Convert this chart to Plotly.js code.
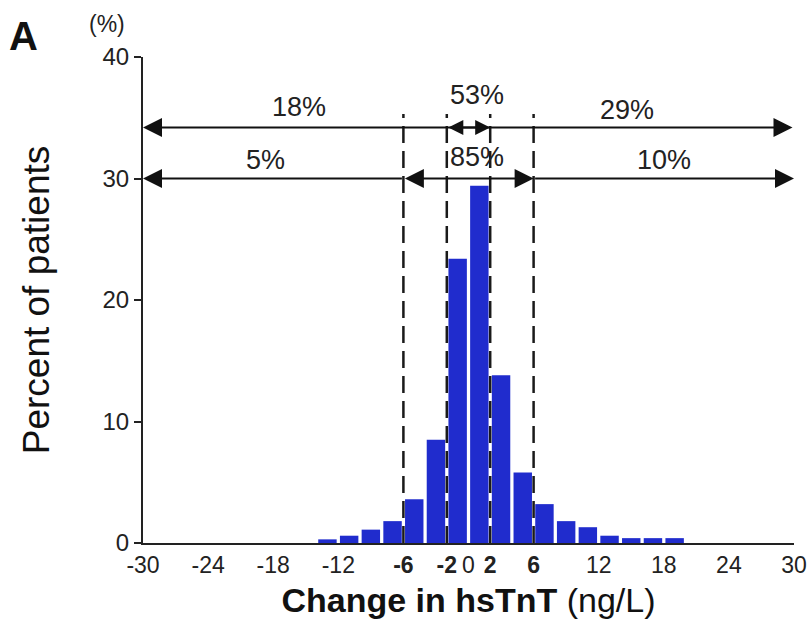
<!DOCTYPE html>
<html>
<head>
<meta charset="utf-8">
<script src="https://cdn.plot.ly/plotly-3.0.1.min.js"></script>
<style>html,body{margin:0;padding:0;background:#fff;}#chart{width:812px;height:624px;}</style>
</head>
<body>
<div id="chart"></div>
<script>
// Bin centers (ng/L) and percent of patients per 2 ng/L bin
const binCenters = [-13, -11, -9, -7, -5, -3, -1, 1, 3, 5, 7, 9, 11, 13, 15, 17, 19];
const percents   = [0.3, 0.6, 1.1, 1.8, 3.6, 8.5, 23.4, 29.4, 13.8, 5.8, 3.2, 1.8, 1.3, 0.6, 0.4, 0.4, 0.4];

const xTickVals = [-30, -24, -18, -12, -6, -2, 0, 2, 6, 12, 18, 24, 30];
const xTickText = ['-30', '-24', '-18', '-12', '<b>-6</b>', '<b>-2</b>', '0', '<b>2</b>', '<b>6</b>', '12', '18', '24', '30'];
const yTickVals = [0, 10, 20, 30, 40];

const cutoffs = [-6, -2, 2, 6];
const rowY = {top: 34.2, bottom: 30.0};
const bracketLabels = [
  {text: '18%', x: -15.6, y: 35.9},
  {text: '53%', x: 0.8, y: 36.9},
  {text: '29%', x: 14.6, y: 35.6},
  {text: '5%', x: -18.7, y: 31.5},
  {text: '85%', x: 0.8, y: 31.8},
  {text: '10%', x: 18.0, y: 31.5}
];

const font = '"Liberation Sans", Arial, sans-serif';
const narrow = '"Liberation Sans Narrow", "Arial Narrow", "Liberation Sans", Arial, sans-serif';

const trace = {
  type: 'bar',
  x: binCenters,
  y: percents,
  width: 1.7,
  marker: {color: 'rgb(32,44,205)', line: {width: 0}},
  hoverinfo: 'x+y'
};

const shapes = cutoffs.map(c => ({
  type: 'line', xref: 'x', yref: 'y', x0: c, x1: c, y0: 0, y1: 35.3,
  line: {color: '#1a1a1a', width: 2.5, dash: '17px,8px'}, layer: 'above'
}));

function arrow(from, to, y, side, size) {
  return {
    xref: 'x', yref: 'y', axref: 'x', ayref: 'y',
    x: to, y: y, ax: from, ay: y, text: '', showarrow: true,
    arrowhead: 2, arrowsize: size || 1.9, arrowwidth: 2, arrowcolor: '#111',
    arrowside: side, standoff: 0, startstandoff: 0
  };
}

const annotations = [
  arrow(30, -30, rowY.top, 'end+start'),
  arrow(-2, 2, rowY.top, 'end+start', 1.5),
  arrow(-6, -30, rowY.bottom, 'end'),
  arrow(-6, 6, rowY.bottom, 'end+start'),
  arrow(6, 30, rowY.bottom, 'end'),
  ...bracketLabels.map(b => ({
    xref: 'x', yref: 'y', x: b.x, y: b.y, text: b.text, showarrow: false,
    font: {family: font, size: 27, color: '#222'}
  })),
  {xref: 'paper', yref: 'paper', x: -0.209, y: 1.044, xanchor: 'left', yanchor: 'middle',
   text: '<b>A</b>', showarrow: false, font: {family: font, size: 40, color: '#111'}},
  {xref: 'paper', yref: 'paper', x: -0.024, y: 1.068, xanchor: 'right', yanchor: 'middle',
   text: '(%)', showarrow: false, font: {family: font, size: 23, color: '#222'}}
];

const layout = {
  width: 812, height: 624,
  margin: {l: 143, r: 18, t: 57, b: 81},
  paper_bgcolor: '#fff', plot_bgcolor: '#fff',
  showlegend: false,
  xaxis: {
    range: [-30, 30], tickvals: xTickVals, ticktext: xTickText,
    showgrid: false, zeroline: false, showline: true, linecolor: '#222', linewidth: 2,
    ticks: '', tickfont: {family: narrow, size: 23, color: '#222'},
    title: {text: '<b>Change in hsTnT</b> (ng/L)', font: {family: narrow, size: 34, color: '#111'}, standoff: 12}
  },
  yaxis: {
    range: [0, 40], tickvals: yTickVals,
    showgrid: false, zeroline: false, showline: true, linecolor: '#222', linewidth: 2,
    ticks: 'outside', ticklen: 7, tickwidth: 2, tickcolor: '#222',
    tickfont: {family: font, size: 24, color: '#222'},
    title: {text: 'Percent of patients', font: {family: font, size: 37, color: '#111'}, standoff: 42}
  },
  shapes: shapes,
  annotations: annotations
};

Plotly.newPlot('chart', [trace], layout, {displayModeBar: false, staticPlot: true});
</script>
</body>
</html>
